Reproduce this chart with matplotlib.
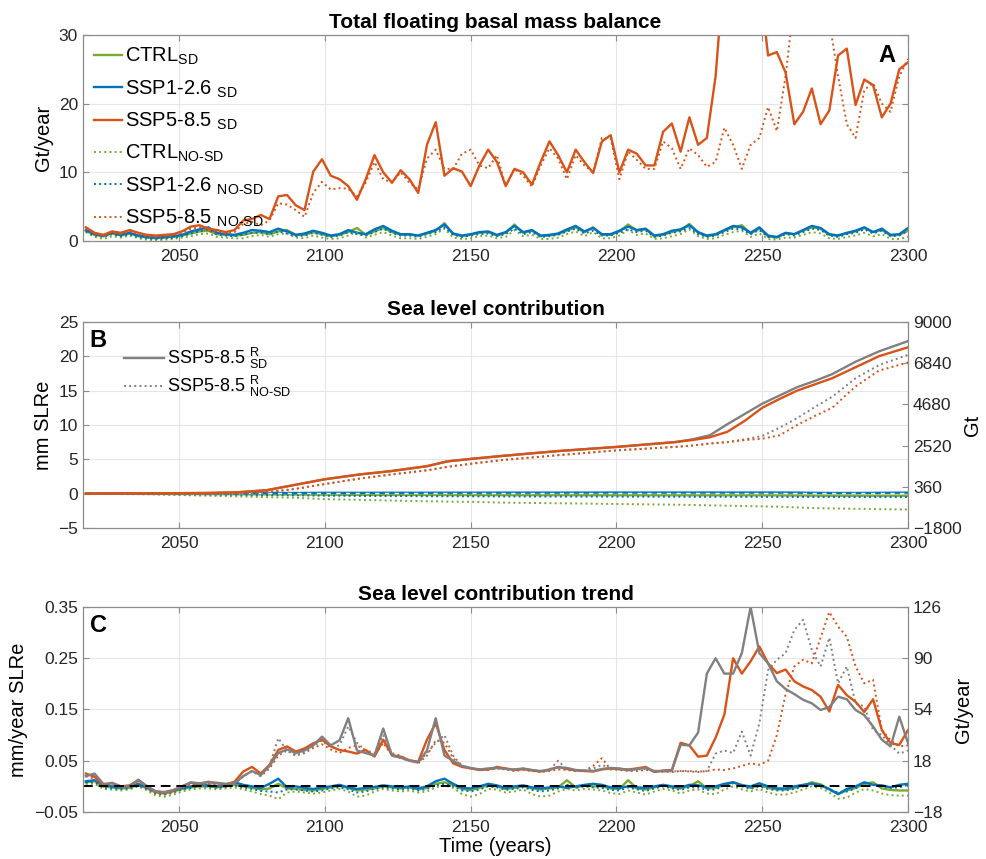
import numpy as np
import matplotlib
matplotlib.use('Agg')
import matplotlib.pyplot as plt

plt.rcParams['font.family'] = ['Liberation Sans', 'DejaVu Sans']
plt.rcParams['mathtext.fontset'] = 'custom'
plt.rcParams['mathtext.rm'] = 'Liberation Sans'
plt.rcParams['mathtext.it'] = 'Liberation Sans'

GREEN = '#77AC30'
BLUE = '#0072BD'
ORANGE = '#D95319'
GRAY = '#808080'

# 3-year time grid used by panels A and C
years = np.arange(2018, 2301, 3)

# ---- Panel A: total floating basal mass balance (Gt/year) ----
a_ssp585_sd = [2.0, 1.2, 0.9, 1.4, 1.2, 1.6, 1.2, 0.9, 0.8, 0.9,
               1.0, 1.4, 2.1, 2.3, 1.8, 1.6, 1.3, 1.6, 3.0, 3.2,
               3.8, 3.2, 6.5, 6.7, 5.2, 4.5, 10.1, 11.9, 9.5, 9.0,
               8.0, 6.0, 9.0, 12.5, 10.0, 8.5, 10.3, 9.0, 7.0, 14.0,
               17.3, 9.5, 10.6, 10.1, 8.0, 11.0, 13.3, 11.5, 8.0, 10.5,
               10.0, 8.2, 11.5, 14.5, 12.5, 10.0, 13.3, 11.5, 9.9, 14.5,
               15.4, 10.0, 13.3, 12.7, 11.0, 11.0, 15.9, 17.1, 13.0, 18.0,
               14.0, 15.0, 24.0, 40, 40, 40, 40, 38, 27.0, 27.5,
               24.5, 17.0, 18.8, 22.2, 17.0, 19.0, 27.0, 28.0, 19.8, 23.5,
               22.7, 18.0, 20.0, 25.0, 26.0]
a_ssp585_nosd = [1.8, 1.0, 0.7, 1.2, 1.0, 1.4, 1.0, 0.7, 0.6, 0.7,
                 0.8, 1.2, 1.8, 2.0, 1.5, 1.4, 1.1, 1.3, 2.5, 2.8,
                 2.3, 3.0, 5.5, 5.3, 4.5, 3.5, 7.0, 8.6, 7.5, 7.7,
                 7.6, 6.5, 8.5, 11.5, 9.0, 8.5, 10.0, 8.5, 7.5, 12.0,
                 13.3, 10.5, 10.5, 12.7, 13.3, 11.0, 10.6, 12.5, 8.0, 10.5,
                 9.5, 7.9, 11.0, 13.5, 12.0, 9.0, 12.5, 11.0, 10.0, 15.0,
                 15.0, 9.0, 13.0, 11.8, 10.5, 10.5, 14.5, 13.5, 10.5, 13.5,
                 12.5, 10.8, 11.5, 16.5, 14.0, 10.5, 14.0, 15.0, 19.5, 16.0,
                 24.0, 35, 35, 35, 35, 32, 24.0, 17.0, 15.0, 22.0,
                 23.0, 20.0, 18.8, 24.0, 26.5]
a_ssp126_sd = [1.6, 1.0, 0.8, 1.2, 0.9, 1.2, 0.8, 0.6, 0.5, 0.6,
               0.7, 0.9, 1.4, 1.7, 2.0, 1.2, 1.0, 0.9, 1.2, 1.6,
               1.5, 1.3, 1.8, 1.4, 0.9, 1.1, 1.5, 1.2, 0.8, 1.0,
               1.6, 1.2, 1.0, 1.7, 2.2, 1.5, 1.0, 1.0, 0.8, 1.2,
               1.6, 2.4, 1.1, 0.8, 1.0, 1.3, 1.4, 0.9, 1.3, 2.2,
               1.3, 1.6, 0.8, 0.9, 1.1, 1.7, 2.2, 1.4, 1.9, 1.0,
               1.0, 1.5, 2.1, 1.6, 1.8, 0.8, 1.0, 1.5, 1.7, 2.3,
               1.3, 0.8, 1.0, 1.6, 2.2, 2.0, 1.2, 2.0, 0.8, 0.6,
               1.2, 1.0, 1.6, 2.2, 1.9, 1.0, 0.8, 1.2, 1.5, 2.0,
               1.3, 1.8, 0.9, 1.0, 1.9]
a_ctrl_sd = [1.5, 0.9, 0.7, 1.1, 0.8, 1.1, 0.7, 0.5, 0.4, 0.5,
             0.6, 0.8, 1.1, 1.4, 1.5, 1.0, 0.9, 0.8, 0.9, 1.2,
             1.3, 1.0, 1.4, 1.6, 0.9, 0.9, 1.3, 1.0, 0.7, 0.9,
             1.3, 1.9, 0.9, 1.4, 1.9, 1.3, 0.9, 0.9, 0.8, 1.1,
             1.5, 2.6, 1.0, 0.7, 0.9, 1.2, 1.3, 0.8, 1.2, 2.4,
             1.2, 1.5, 0.7, 0.8, 1.0, 1.5, 2.0, 1.3, 2.0, 0.9,
             0.9, 1.4, 2.4, 1.5, 1.7, 0.7, 0.9, 1.3, 1.6, 2.5,
             1.2, 0.7, 0.9, 1.5, 2.0, 2.3, 1.1, 1.8, 0.7, 0.5,
             1.1, 1.0, 1.5, 2.0, 1.8, 0.9, 0.8, 1.1, 1.4, 1.9,
             1.3, 1.6, 0.8, 0.9, 1.5]
a_ctrl_nosd = [1.3, 0.6, 0.3, 0.7, 0.5, 0.8, 0.4, 0.2, 0.1, 0.2,
               0.3, 0.5, 0.7, 1.0, 1.1, 0.6, 0.5, 0.4, 0.4, 0.7,
               0.9, 0.6, 1.0, 1.1, 0.5, 0.4, 0.8, 0.5, 0.3, 0.4,
               0.8, 1.3, 0.5, 0.9, 1.3, 0.8, 0.4, 0.4, 0.3, 0.6,
               1.0, 1.8, 0.5, 0.3, 0.4, 0.7, 0.8, 0.4, 0.6, 1.6,
               0.7, 0.9, 0.3, 0.3, 0.5, 1.0, 1.4, 0.7, 1.3, 0.4,
               0.4, 0.8, 1.6, 0.9, 1.1, 0.3, 0.4, 0.7, 1.0, 1.7,
               0.7, 0.3, 0.4, 0.9, 1.3, 1.5, 0.6, 1.1, 0.3, 0.2,
               0.5, 0.5, 0.9, 1.3, 1.1, 0.4, 0.3, 0.6, 0.8, 1.2,
               0.7, 1.0, 0.3, 0.3, 0.6]
a_ssp126_nosd = [1.4, 0.8, 0.6, 1.0, 0.7, 1.0, 0.6, 0.4, 0.3, 0.4,
                 0.5, 0.7, 1.1, 1.4, 1.7, 0.9, 0.8, 0.7, 0.9, 1.2,
                 1.2, 1.0, 1.4, 1.1, 0.7, 0.8, 1.2, 0.9, 0.6, 0.8,
                 1.3, 1.0, 0.8, 1.3, 1.8, 1.2, 0.8, 0.8, 0.6, 1.0,
                 1.3, 2.0, 0.9, 0.6, 0.8, 1.0, 1.1, 0.7, 1.0, 1.8,
                 1.0, 1.3, 0.6, 0.7, 0.9, 1.4, 1.8, 1.1, 1.5, 0.8,
                 0.8, 1.2, 1.7, 1.3, 1.5, 0.6, 0.8, 1.2, 1.4, 1.9,
                 1.0, 0.6, 0.8, 1.3, 1.8, 1.7, 1.0, 1.6, 0.6, 0.5,
                 1.0, 0.8, 1.3, 1.8, 1.6, 0.8, 0.6, 1.0, 1.2, 1.7,
                 1.1, 1.5, 0.7, 0.8, 1.5]

# ---- Panel B: sea level contribution (mm SLRe), coarser years ----
b_years = [2018, 2040, 2060, 2070, 2080, 2090, 2100, 2112, 2123, 2135,
           2142, 2151, 2161, 2180, 2200, 2220, 2226, 2232, 2238, 2244,
           2250, 2256, 2262, 2268, 2274, 2282, 2290, 2300]
b_ssp585_sd = [0, 0.05, 0.1, 0.2, 0.5, 1.3, 2.1, 2.8, 3.3, 4.0,
               4.7, 5.1, 5.5, 6.2, 6.8, 7.5, 7.8, 8.2, 9.0, 10.6,
               12.5, 13.8, 15.0, 15.9, 16.8, 18.4, 20.0, 21.3]
b_ssp585_nosd = [0, 0.0, 0.0, 0.05, 0.2, 0.7, 1.4, 2.2, 2.8, 3.4,
                 3.9, 4.4, 4.9, 5.6, 6.3, 6.8, 7.0, 7.3, 7.5, 7.8,
                 8.0, 8.5, 10.0, 11.3, 12.5, 15.6, 17.9, 19.1]
b_ssp585r_sd = [0, 0.05, 0.1, 0.2, 0.5, 1.3, 2.1, 2.8, 3.3, 4.0,
                4.7, 5.1, 5.5, 6.2, 6.8, 7.5, 7.9, 8.5, 10.1, 11.6,
                13.1, 14.3, 15.5, 16.4, 17.4, 19.2, 20.7, 22.2]
b_ssp585r_nosd = [0, 0.0, 0.0, 0.05, 0.2, 0.7, 1.4, 2.2, 2.8, 3.4,
                  3.9, 4.4, 4.9, 5.6, 6.3, 6.8, 7.0, 7.3, 7.5, 7.9,
                  8.4, 9.6, 11.0, 12.6, 14.1, 16.8, 18.7, 20.2]
b_ssp126_sd = [0, 0.02, 0.05, 0.05, 0.1, 0.1, 0.12, 0.12, 0.13, 0.13,
               0.14, 0.14, 0.15, 0.15, 0.16, 0.16, 0.16, 0.16, 0.16, 0.16,
               0.16, 0.16, 0.15, 0.12, 0.1, 0.1, 0.12, 0.15]
b_ssp126_nosd = [0, -0.05, -0.1, -0.15, -0.2, -0.25, -0.3, -0.33, -0.35, -0.37,
                 -0.38, -0.4, -0.4, -0.42, -0.43, -0.44, -0.45, -0.45, -0.46, -0.46,
                 -0.47, -0.47, -0.48, -0.48, -0.49, -0.5, -0.5, -0.5]
b_ctrl_sd = [0, -0.03, -0.06, -0.08, -0.1, -0.12, -0.15, -0.17, -0.18, -0.19,
             -0.2, -0.2, -0.21, -0.22, -0.22, -0.23, -0.23, -0.23, -0.24, -0.24,
             -0.24, -0.25, -0.26, -0.28, -0.3, -0.3, -0.3, -0.3]
b_ctrl_nosd = [0, -0.1, -0.3, -0.4, -0.5, -0.6, -0.8, -0.9, -1.0, -1.1,
               -1.15, -1.2, -1.3, -1.4, -1.5, -1.6, -1.65, -1.7, -1.75, -1.8,
               -1.85, -1.9, -2.0, -2.1, -2.15, -2.2, -2.25, -2.3]

# ---- Panel C: sea level contribution trend (mm/year SLRe) ----
c_ssp585_sd = [0.025, 0.019, 0.003, 0.007, 0.0, 0.002, 0.012, 0.0, -0.010, -0.012,
               -0.008, 0.0, 0.007, 0.005, 0.009, 0.006, 0.004, 0.009, 0.029, 0.038,
               0.025, 0.042, 0.071, 0.078, 0.068, 0.074, 0.084, 0.091, 0.078, 0.071,
               0.068, 0.064, 0.071, 0.058, 0.091, 0.061, 0.058, 0.051, 0.048, 0.091,
               0.123, 0.071, 0.045, 0.038, 0.035, 0.032, 0.033, 0.038, 0.035, 0.032,
               0.034, 0.031, 0.029, 0.032, 0.038, 0.034, 0.031, 0.030, 0.029, 0.033,
               0.035, 0.034, 0.033, 0.035, 0.038, 0.028, 0.031, 0.032, 0.085, 0.080,
               0.058, 0.060, 0.095, 0.14, 0.25, 0.22, 0.244, 0.273, 0.24, 0.221,
               0.228, 0.205, 0.195, 0.188, 0.175, 0.146, 0.198, 0.178, 0.165, 0.145,
               0.17, 0.11, 0.084, 0.081, 0.11]
c_ssp585_nosd = [0.02, 0.015, 0.0, 0.005, -0.002, 0.0, 0.01, -0.003, -0.013, -0.015,
                 -0.01, -0.003, 0.003, 0.002, 0.005, 0.003, 0.0, 0.005, 0.02, 0.03,
                 0.02, 0.035, 0.06, 0.07, 0.06, 0.065, 0.075, 0.082, 0.072, 0.065,
                 0.075, 0.08, 0.07, 0.06, 0.085, 0.06, 0.055, 0.05, 0.045, 0.06,
                 0.09, 0.085, 0.055, 0.04, 0.035, 0.033, 0.032, 0.035, 0.033, 0.03,
                 0.032, 0.03, 0.028, 0.03, 0.033, 0.032, 0.03, 0.03, 0.04, 0.055,
                 0.033, 0.032, 0.03, 0.03, 0.032, 0.03, 0.028, 0.028, 0.03, 0.029,
                 0.028, 0.03, 0.033, 0.032, 0.035, 0.04, 0.045, 0.042, 0.05, 0.1,
                 0.18, 0.234, 0.247, 0.24, 0.29, 0.34, 0.312, 0.292, 0.234, 0.201,
                 0.208, 0.11, 0.09, 0.078, 0.08]
c_ssp585r_sd = [0.02, 0.025, 0.005, 0.006, 0.0, 0.0, 0.013, 0.0, -0.01, -0.011,
                -0.007, 0.0, 0.008, 0.006, 0.008, 0.007, 0.005, 0.006, 0.02, 0.03,
                0.022, 0.04, 0.065, 0.072, 0.065, 0.07, 0.08, 0.097, 0.08, 0.09,
                0.133, 0.07, 0.065, 0.06, 0.113, 0.06, 0.056, 0.05, 0.047, 0.07,
                0.133, 0.06, 0.05, 0.04, 0.036, 0.033, 0.035, 0.036, 0.034, 0.033,
                0.035, 0.032, 0.03, 0.033, 0.037, 0.036, 0.032, 0.031, 0.03, 0.034,
                0.036, 0.035, 0.032, 0.034, 0.036, 0.03, 0.03, 0.031, 0.081, 0.08,
                0.105, 0.22, 0.25, 0.22, 0.22, 0.26, 0.35, 0.26, 0.24, 0.205,
                0.19, 0.18, 0.169, 0.162, 0.149, 0.155, 0.175, 0.17, 0.149, 0.139,
                0.117, 0.091, 0.078, 0.136, 0.084]
c_ssp585r_nosd = [0.02, 0.02, 0.003, 0.005, -0.001, 0.0, 0.012, -0.002, -0.012, -0.013,
                  -0.008, -0.002, 0.005, 0.004, 0.006, 0.005, 0.003, 0.005, 0.02, 0.03,
                  0.02, 0.04, 0.094, 0.07, 0.06, 0.068, 0.078, 0.09, 0.075, 0.08,
                  0.117, 0.085, 0.07, 0.065, 0.1, 0.065, 0.06, 0.05, 0.046, 0.065,
                  0.085, 0.1, 0.06, 0.04, 0.035, 0.034, 0.034, 0.035, 0.035, 0.033,
                  0.033, 0.032, 0.03, 0.032, 0.05, 0.033, 0.031, 0.03, 0.035, 0.042,
                  0.035, 0.033, 0.031, 0.033, 0.034, 0.03, 0.029, 0.029, 0.03, 0.03,
                  0.029, 0.03, 0.064, 0.07, 0.065, 0.107, 0.06, 0.123, 0.227, 0.247,
                  0.26, 0.305, 0.325, 0.266, 0.234, 0.29, 0.201, 0.234, 0.162, 0.156,
                  0.11, 0.10, 0.08, 0.064, 0.07]
c_ssp126_sd = [0.01, 0.012, 0.003, 0.0, -0.002, 0.0, 0.005, -0.002, -0.010, -0.012,
               -0.008, -0.003, 0.0, 0.003, 0.002, 0.0, 0.002, 0.008, 0.003, 0.0,
               -0.003, 0.005, 0.015, -0.002, 0.0, -0.003, -0.005, -0.002, 0.0, 0.003,
               -0.002, -0.005, -0.003, -0.001, 0.002, 0.0, -0.002, 0.0, -0.004, 0.0,
               0.01, 0.015, 0.005, -0.003, -0.004, 0.0, 0.005, 0.002, -0.003, 0.0,
               0.002, -0.002, -0.004, -0.002, 0.0, -0.003, 0.0, 0.003, 0.005, 0.003,
               -0.002, -0.003, 0.0, -0.002, -0.003, 0.0, 0.003, 0.0, -0.002, 0.003,
               0.002, -0.002, 0.0, 0.005, 0.008, 0.002, 0.0, 0.006, 0.0, -0.004,
               -0.004, 0.0, 0.003, 0.005, 0.002, -0.005, -0.015, -0.005, 0.0, 0.008,
               0.003, 0.002, -0.002, 0.003, 0.005]
c_ctrl_sd = [0.008, 0.01, 0.0, -0.002, -0.004, -0.003, 0.003, -0.004, -0.012, -0.014,
             -0.01, -0.005, -0.002, 0.0, 0.0, -0.002, 0.0, 0.003, 0.0, -0.003,
             -0.006, -0.004, 0.005, -0.004, -0.005, -0.007, -0.008, -0.005, -0.002, 0.001,
             -0.003, -0.008, -0.006, -0.004, 0.0, -0.002, -0.004, -0.002, -0.006, -0.003,
             0.005, 0.008, 0.003, -0.005, -0.007, -0.003, 0.002, 0.0, -0.005, -0.003,
             0.0, -0.004, -0.006, -0.004, -0.002, 0.012, -0.002, 0.002, 0.0, 0.0,
             -0.004, -0.005, 0.012, -0.004, -0.006, -0.002, 0.002, -0.002, -0.004, 0.0,
             0.01, -0.004, -0.003, 0.003, 0.008, 0.003, -0.003, 0.002, -0.003, -0.006,
             -0.006, -0.003, 0.002, 0.008, 0.004, -0.006, -0.015, -0.008, -0.003, 0.005,
             0.008, -0.004, -0.007, -0.008, -0.008]
c_ctrl_nosd = [0.005, 0.005, -0.005, -0.006, -0.008, -0.006, 0.0, -0.008, -0.018, -0.02,
               -0.016, -0.01, -0.006, -0.004, -0.004, -0.006, -0.004, -0.002, -0.006, -0.01,
               -0.015, -0.018, -0.025, -0.012, -0.01, -0.012, -0.014, -0.012, -0.008, -0.005,
               -0.01, -0.02, -0.018, -0.01, -0.005, -0.008, -0.01, -0.008, -0.012, -0.01,
               -0.002, 0.002, -0.003, -0.015, -0.02, -0.015, -0.005, -0.006, -0.012, -0.01,
               -0.006, -0.015, -0.02, -0.018, -0.01, -0.005, -0.008, -0.005, -0.006, -0.008,
               -0.013, -0.015, -0.008, -0.012, -0.016, -0.01, -0.005, -0.008, -0.014, -0.008,
               -0.006, -0.014, -0.015, -0.006, 0.0, -0.006, -0.01, -0.005, -0.012, -0.016,
               -0.016, -0.012, -0.006, 0.0, -0.003, -0.012, -0.024, -0.022, -0.012, -0.005,
               -0.008, -0.014, -0.017, -0.018, -0.018]
c_ssp126_nosd = [0.008, 0.008, -0.002, -0.004, -0.005, -0.004, 0.002, -0.005, -0.014, -0.016,
                 -0.012, -0.006, -0.003, 0.0, 0.0, -0.003, -0.001, 0.002, -0.002, -0.005,
                 -0.009, -0.01, -0.012, -0.006, -0.006, -0.008, -0.01, -0.008, -0.004, -0.002,
                 -0.006, -0.012, -0.01, -0.005, -0.002, -0.004, -0.006, -0.004, -0.008, -0.005,
                 0.002, 0.005, 0.0, -0.008, -0.01, -0.006, 0.0, -0.002, -0.007, -0.005,
                 -0.002, -0.007, -0.01, -0.008, -0.004, 0.003, -0.003, 0.0, -0.002, -0.003,
                 -0.007, -0.008, -0.002, -0.006, -0.009, -0.004, 0.0, -0.004, -0.007, -0.002,
                 -0.002, -0.007, -0.006, 0.002, 0.006, 0.0, -0.005, 0.0, -0.005, -0.008,
                 -0.008, -0.005, 0.0, 0.006, 0.002, -0.007, -0.012, -0.01, -0.004, 0.006,
                 0.004, 0.0, -0.003, -0.002, 0.003]

xticks = [2050, 2100, 2150, 2200, 2250, 2300]
MM_TO_GT = 360  # 1 mm SLRe = 360 Gt

TICK_FS = 12.5
LABEL_FS = 14.5
TITLE_FS = 15


def style(ax, right=True):
    ax.set_xlim(2017, 2300)
    ax.set_xticks(xticks)
    ax.grid(True, color='#e6e6e6', lw=0.8)
    ax.set_axisbelow(True)
    for s in ax.spines.values():
        s.set_color('#8c8c8c')
        s.set_linewidth(0.9)
    ax.tick_params(direction='in', length=4, top=True, right=right,
                   color='#8c8c8c', labelcolor='#262626', labelsize=TICK_FS)
    ax.tick_params(axis='x', pad=6)


def style_twin(ax2):
    for s in ax2.spines.values():
        s.set_visible(False)
    ax2.tick_params(direction='in', length=4, color='#8c8c8c',
                    labelcolor='#262626', labelsize=TICK_FS)


fig = plt.figure(figsize=(9.87, 8.59), dpi=100)
axA = fig.add_axes([0.084, 0.7194, 0.836, 0.240])
axB = fig.add_axes([0.084, 0.3853, 0.836, 0.240])
axC = fig.add_axes([0.084, 0.0547, 0.836, 0.2387])

# ---- A ----
sd = dict(lw=1.7)
nsd = dict(lw=1.4, ls=':')
lA = [axA.plot(years, a_ctrl_sd, color=GREEN, **sd)[0],
      axA.plot(years, a_ssp126_sd, color=BLUE, **sd)[0]]
lA_nosd = [axA.plot(years, a_ctrl_nosd, color=GREEN, **nsd)[0],
           axA.plot(years, a_ssp126_nosd, color=BLUE, **nsd)[0],
           axA.plot(years, a_ssp585_nosd, color=ORANGE, **nsd)[0]]
lA.append(axA.plot(years, a_ssp585_sd, color=ORANGE, **sd)[0])
style(axA)
axA.set_ylim(0, 30)
axA.set_yticks([0, 10, 20, 30])
axA.set_ylabel('Gt/year', fontsize=LABEL_FS)
axA.set_title('Total floating basal mass balance', fontweight='bold', fontsize=TITLE_FS, pad=5)
axA.text(0.985, 0.955, 'A', transform=axA.transAxes, ha='right', va='top',
         fontweight='bold', fontsize=17)
labelsA = ['CTRL$_{\\mathrm{SD}}$', 'SSP1-2.6 $_{\\mathrm{SD}}$', 'SSP5-8.5 $_{\\mathrm{SD}}$',
           'CTRL$_{\\text{NO-SD}}$', 'SSP1-2.6 $_{\\text{NO-SD}}$', 'SSP5-8.5 $_{\\text{NO-SD}}$']
axA.legend(lA + lA_nosd, labelsA, loc='upper left', frameon=False, fontsize=14.5,
           handlelength=1.4, handletextpad=0.15, labelspacing=0.55,
           borderaxespad=0.35, borderpad=0.2)

# ---- B ----
axB.plot(b_years, b_ctrl_sd, color=GREEN, **sd)
axB.plot(b_years, b_ctrl_nosd, color=GREEN, **nsd)
axB.plot(b_years, b_ssp126_nosd, color=BLUE, **nsd)
axB.plot(b_years, b_ssp126_sd, color=BLUE, **sd)
axB.axhline(0.1, color='white', lw=1.0, ls=(0, (3, 4)))
lB1, = axB.plot(b_years, b_ssp585r_sd, color=GRAY, **sd)
lB2, = axB.plot(b_years, b_ssp585r_nosd, color=GRAY, **nsd)
axB.plot(b_years, b_ssp585_nosd, color=ORANGE, **nsd)
axB.plot(b_years, b_ssp585_sd, color=ORANGE, **sd)
style(axB, right=False)
axB.set_ylim(-5, 25)
axB.set_yticks([-5, 0, 5, 10, 15, 20, 25])
axB.set_ylabel('mm SLRe', fontsize=LABEL_FS)
axB.set_title('Sea level contribution', fontweight='bold', fontsize=TITLE_FS, pad=5)
axB.text(0.008, 0.965, 'B', transform=axB.transAxes, ha='left', va='top',
         fontweight='bold', fontsize=17)
axB.legend([lB1, lB2], ['SSP5-8.5 ${}^{\\mathrm{R}}_{\\mathrm{SD}}$',
                        'SSP5-8.5 ${}^{\\mathrm{R}}_{\\text{NO-SD}}$'],
           loc='upper left', bbox_to_anchor=(0.03, 0.96), frameon=False, fontsize=13,
           handlelength=2.2, handletextpad=0.2, labelspacing=0.15)
bB = axB.twinx()
bB.set_ylim(-5 * MM_TO_GT, 25 * MM_TO_GT)
bB.set_yticks([-1800, 360, 2520, 4680, 6840, 9000])
style_twin(bB)
bB.set_ylabel('Gt', fontsize=LABEL_FS, labelpad=1)

# ---- C ----
axC.plot(years, c_ctrl_sd, color=GREEN, **sd)
axC.plot(years, c_ctrl_nosd, color=GREEN, **nsd)
axC.plot(years, c_ssp126_nosd, color=BLUE, **nsd)
axC.plot(years, c_ssp126_sd, color=BLUE, **sd)
axC.plot(years, c_ssp585_nosd, color=ORANGE, **nsd)
axC.plot(years, c_ssp585r_nosd, color=GRAY, **nsd)
axC.plot(years, c_ssp585_sd, color=ORANGE, **sd)
axC.plot(years, c_ssp585r_sd, color=GRAY, **sd)
axC.axhline(0, color='black', lw=1.4, ls=(0, (5, 3)))
style(axC, right=False)
axC.set_ylim(-0.05, 0.35)
axC.set_yticks([-0.05, 0.05, 0.15, 0.25, 0.35])
axC.set_ylabel('mm/year SLRe', fontsize=LABEL_FS)
axC.set_xlabel('Time (years)', fontsize=LABEL_FS, labelpad=1)
axC.set_title('Sea level contribution trend', fontweight='bold', fontsize=TITLE_FS, pad=5)
axC.text(0.008, 0.965, 'C', transform=axC.transAxes, ha='left', va='top',
         fontweight='bold', fontsize=17)
bC = axC.twinx()
bC.set_ylim(-0.05 * MM_TO_GT, 0.35 * MM_TO_GT)
bC.set_yticks([-18, 18, 54, 90, 126])
style_twin(bC)
bC.set_ylabel('Gt/year', fontsize=LABEL_FS, labelpad=8)

fig.savefig('out.png', dpi=100)
